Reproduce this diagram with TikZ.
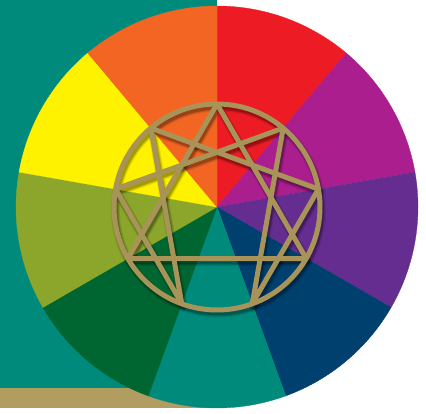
\documentclass[tikz,border=0pt]{standalone}
\usepackage{xcolor}
\usepackage{tikz}
\definecolor{bgteal}{HTML}{008A7C}
\definecolor{bgtan}{HTML}{B19D5F}
\definecolor{wred}{HTML}{ED1C24}
\definecolor{wmagenta}{HTML}{AA1F8D}
\definecolor{wpurple}{HTML}{662D91}
\definecolor{wnavy}{HTML}{00406F}
\definecolor{wteal}{HTML}{008A7C}
\definecolor{wgreen}{HTML}{006631}
\definecolor{wolive}{HTML}{8CA52B}
\definecolor{wyellow}{HTML}{FFF200}
\definecolor{worange}{HTML}{F26522}
\definecolor{gold}{HTML}{A89458}
% ring + triangle + hexad
\newcommand{\enneafig}{%
  \draw (c) circle[radius=103pt];
  \draw (p0) -- (p3) -- (p6) -- cycle;
  \draw (p1) -- (p4) -- (p2) -- (p8) -- (p5) -- (p7) -- cycle;
}

\begin{document}
\begin{tikzpicture}[x=1pt, y=1pt, line join=round,
    sector/.style={fill=#1, draw=#1, line width=0.3pt},
    figure/.style={draw=gold, line width=5pt}]
  \useasboundingbox (0,0) rectangle (426,413);
  % Pozadi
  \fill[bgteal] (0,25) rectangle (217,413);
  \fill[bgtan] (0,5) rectangle (217,25);
  % Barevne kolo
  \coordinate (c) at (217,206);
  \foreach \col [count=\i from 0] in {wred, wmagenta, wpurple, wnavy, wteal, wgreen, wolive, wyellow, worange} {
    \path[sector=\col] (c) -- ++(90-40*\i:201pt)
      arc[start angle=90-40*\i, end angle=50-40*\i, radius=201pt] -- cycle;
  }
  % Body enneagramu
  \foreach \i in {0,...,8} {
    \coordinate (p\i) at ([shift={(90-40*\i:103pt)}]c);
  }
  % Stin
  \foreach \w/\o in {9/0.08, 7/0.12, 5/0.2} {
    \begin{scope}[transform canvas={shift={(1.5pt,-3pt)}}, draw=black, draw opacity=\o, line width=\w pt]
      \enneafig
    \end{scope}
  }
  % Enneagram
  \begin{scope}[figure]
    \enneafig
  \end{scope}
\end{tikzpicture}
\end{document}
